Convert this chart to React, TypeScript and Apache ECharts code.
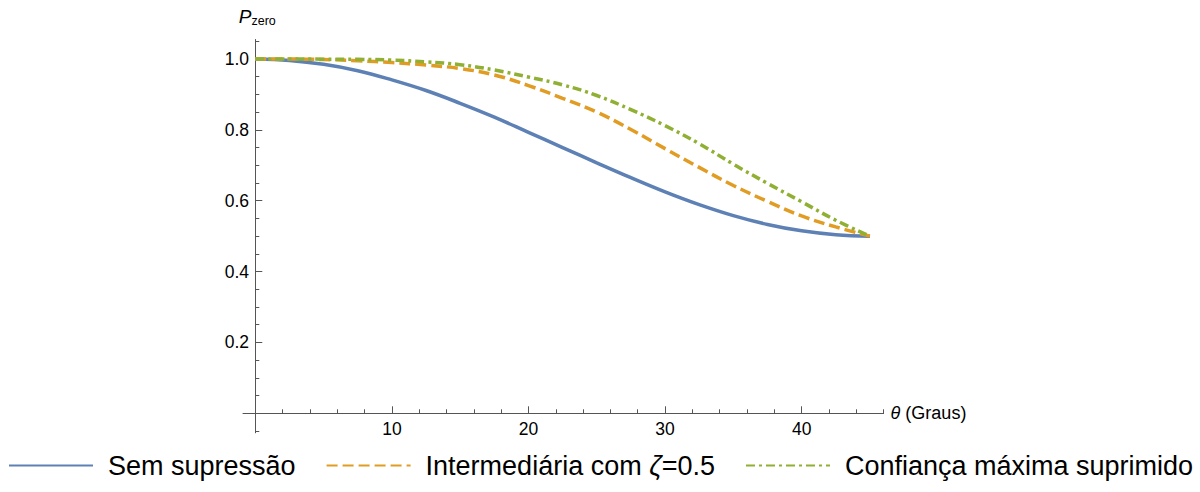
import React, { useEffect, useRef } from 'react';
import * as echarts from 'echarts';

const thetaDeg = [0, 2.5, 5, 7.5, 10, 12.5, 15, 17.5, 20, 22.5, 25, 27.5, 30, 32.5, 35, 37.5, 40, 42.5, 45];
const semSupressao = [1.0, 0.996, 0.985, 0.967, 0.941, 0.911, 0.875, 0.836, 0.793, 0.75, 0.707, 0.665, 0.625, 0.589, 0.558, 0.533, 0.515, 0.504, 0.5];
const intermediaria = [1.0, 0.9998, 0.9985, 0.995, 0.99, 0.983, 0.973, 0.955, 0.925, 0.889, 0.85, 0.801, 0.747, 0.694, 0.643, 0.598, 0.557, 0.526, 0.5];
const confiancaMaxima = [1.0, 1.0, 0.9995, 0.999, 0.997, 0.992, 0.984, 0.969, 0.949, 0.927, 0.897, 0.857, 0.812, 0.761, 0.703, 0.649, 0.597, 0.545, 0.5];

const seriesNames = ['Sem supressão', 'Intermediária com ζ=0.5', 'Confiança máxima suprimido'];
const xMajorTicks = [10, 20, 30, 40];
const xMinorTicks = [2, 4, 6, 8, 12, 14, 16, 18, 22, 24, 26, 28, 32, 34, 36, 38, 42, 44, 46];
const yMajorTicks = [0.2, 0.4, 0.6, 0.8, 1.0];
const yMinorTicks = [-0.05, 0.05, 0.1, 0.15, 0.25, 0.3, 0.35, 0.45, 0.5, 0.55, 0.65, 0.7, 0.75, 0.85, 0.9, 0.95, 1.05];

const FONT = '"Liberation Sans", Arial, sans-serif';
const AXIS_COLOR = '#555555';
const X_MIN = -0.9;
const X_MAX = 46;
const Y_MIN = -0.055;
const Y_MAX = 1.055;

const pairs = (ys: number[]) => thetaDeg.map((t, i) => [t, ys[i]]);

export default function App() {
  const ref = useRef<HTMLDivElement>(null);

  useEffect(() => {
    if (!ref.current) return;
    const chart = echarts.init(ref.current, null, { renderer: 'svg' });
    const gridBox = { left: 243, top: 39.5, width: 640.6, height: 393.3, outerBoundsMode: 'none' };
    const option: any = {
      animation: false,
      backgroundColor: '#ffffff',
      grid: [gridBox, { ...gridBox }],
      xAxis: [
        {
          type: 'value', gridIndex: 0, min: X_MIN, max: X_MAX,
          axisLine: { show: true, onZero: true, lineStyle: { color: AXIS_COLOR, width: 1 } },
          axisTick: { show: true, inside: true, length: 7, customValues: xMajorTicks, lineStyle: { color: AXIS_COLOR, width: 1 } },
          axisLabel: { show: true, customValues: xMajorTicks, margin: -12.8, color: '#000', fontSize: 17.5, fontFamily: FONT },
          splitLine: { show: false },
          name: '{i|θ} {n|(Graus)}',
          nameLocation: 'end',
          nameGap: 7,
          nameTextStyle: {
            color: '#000', fontSize: 18, fontFamily: FONT,
            rich: {
              i: { fontStyle: 'italic', fontSize: 18, fontFamily: FONT, color: '#000' },
              n: { fontSize: 18, fontFamily: FONT, color: '#000' },
            },
          },
        },
        {
          type: 'value', gridIndex: 1, min: X_MIN, max: X_MAX,
          axisLine: { show: false, onZero: true },
          axisTick: { show: true, inside: true, length: 4, customValues: xMinorTicks, lineStyle: { color: AXIS_COLOR, width: 1 } },
          axisLabel: { show: false },
          splitLine: { show: false },
        },
      ],
      yAxis: [
        {
          type: 'value', gridIndex: 0, min: Y_MIN, max: Y_MAX,
          axisLine: { show: true, onZero: true, lineStyle: { color: AXIS_COLOR, width: 1 } },
          axisTick: { show: true, inside: true, length: 7, customValues: yMajorTicks, lineStyle: { color: AXIS_COLOR, width: 1 } },
          axisLabel: {
            show: true, customValues: yMajorTicks, margin: -6, color: '#000', fontSize: 17.5, fontFamily: FONT,
            formatter: (v: number) => v.toFixed(1),
          },
          splitLine: { show: false },
          name: '{p|P}{s|zero}',
          nameLocation: 'end',
          nameGap: 12,
          nameTextStyle: {
            color: '#000', fontFamily: FONT, align: 'center', padding: [0, 0, 0, 4],
            rich: {
              p: { fontStyle: 'italic', fontSize: 19, fontFamily: FONT, color: '#000', verticalAlign: 'bottom', padding: [0, 0, 2, 0] },
              s: { fontSize: 12.5, fontFamily: FONT, color: '#000', verticalAlign: 'bottom' },
            },
          },
        },
        {
          type: 'value', gridIndex: 1, min: Y_MIN, max: Y_MAX,
          axisLine: { show: false, onZero: true },
          axisTick: { show: true, inside: true, length: 4, customValues: yMinorTicks, lineStyle: { color: AXIS_COLOR, width: 1 } },
          axisLabel: { show: false },
          splitLine: { show: false },
        },
      ],
      legend: {
        show: true,
        left: 8,
        top: 452,
        width: 1192,
        padding: 0,
        itemWidth: 84,
        itemHeight: 30,
        itemGap: 30,
        data: seriesNames,
        itemStyle: { opacity: 0 },
        formatter: (name: string) => {
          if (name.indexOf('ζ') >= 0) {
            const [a, b] = name.split('ζ');
            return `{n|${a}}{i|ζ}{n|${b}}`;
          }
          return `{n|${name}}`;
        },
        textStyle: {
          color: '#000', fontSize: 27, fontFamily: FONT, padding: [0, 0, 0, 10],
          rich: {
            n: { fontSize: 27, fontFamily: FONT, color: '#000' },
            i: { fontSize: 27, fontFamily: FONT, color: '#000', fontStyle: 'italic' },
          },
        },
      },
      series: [
        {
          name: seriesNames[0], type: 'line', xAxisIndex: 0, yAxisIndex: 0,
          data: pairs(semSupressao), smooth: 0.4, symbol: 'none',
          lineStyle: { color: '#5E81B5', width: 3.5, type: 'solid' },
          itemStyle: { color: '#5E81B5' }, z: 3,
        },
        {
          name: seriesNames[1], type: 'line', xAxisIndex: 0, yAxisIndex: 0,
          data: pairs(intermediaria), smooth: 0.4, symbol: 'none',
          lineStyle: { color: '#E19C24', width: 3.5, type: [11, 5], cap: 'butt' },
          itemStyle: { color: '#E19C24' }, z: 4,
        },
        {
          name: seriesNames[2], type: 'line', xAxisIndex: 0, yAxisIndex: 0,
          data: pairs(confiancaMaxima), smooth: 0.4, symbol: 'none',
          lineStyle: { color: '#8FB032', width: 3.5, type: [9, 4, 3, 4], cap: 'butt' },
          itemStyle: { color: '#8FB032' }, z: 5,
        },
      ],
    };
    chart.setOption(option);
    return () => chart.dispose();
  }, []);

  return (
    <div
      ref={ref}
      style={{ position: 'fixed', left: 0, top: 0, width: 1200, height: 492, background: '#fff' }}
    />
  );
}
